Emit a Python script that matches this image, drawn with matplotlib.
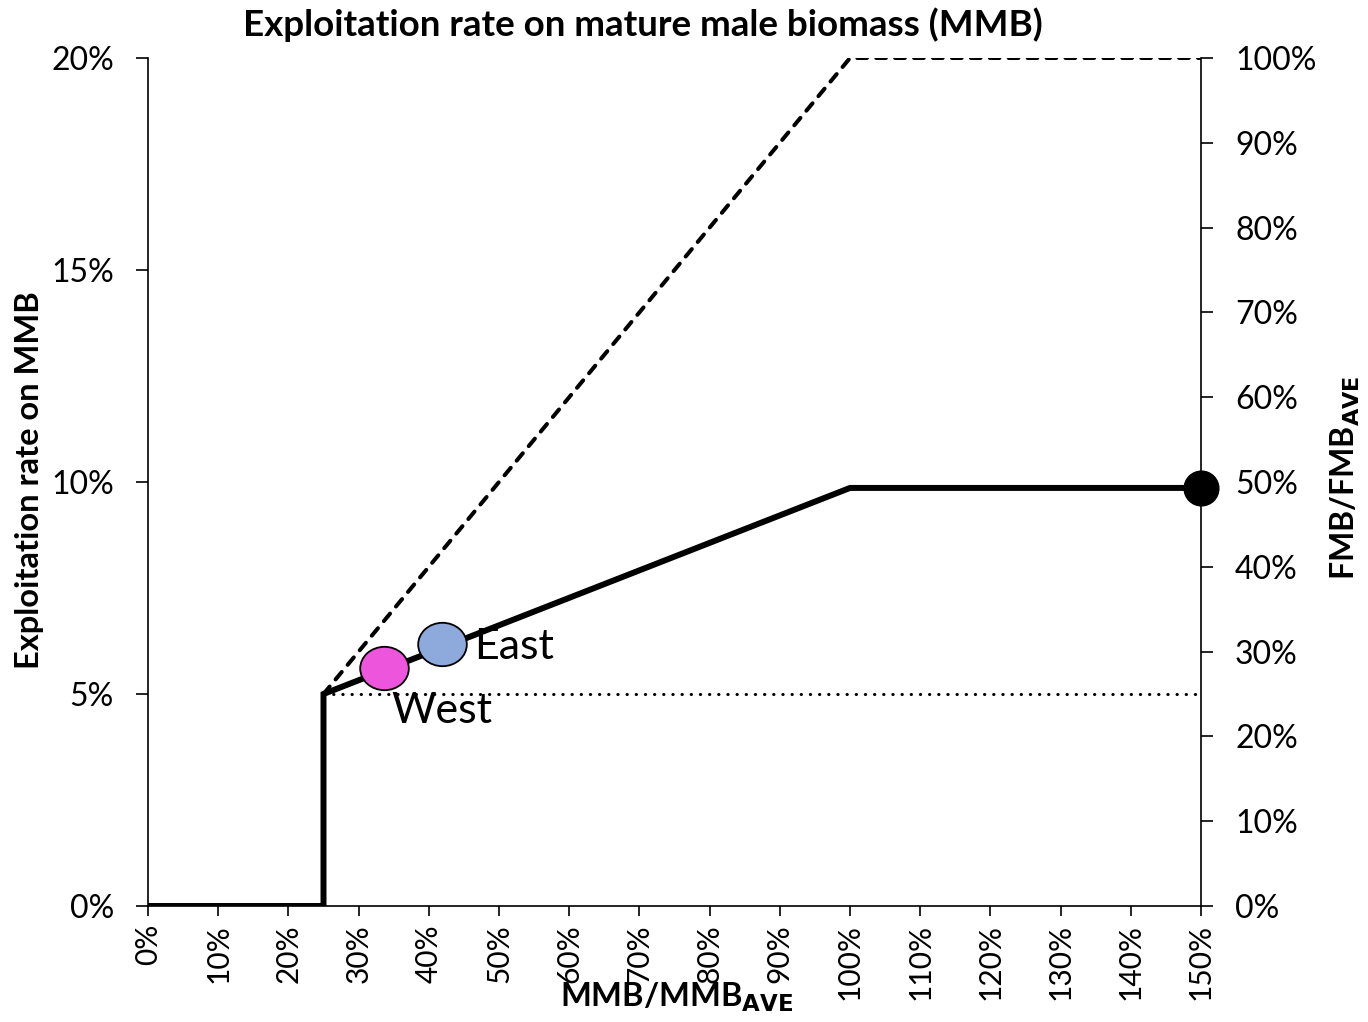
import matplotlib
matplotlib.use("Agg")
import matplotlib.pyplot as plt
from matplotlib.path import Path
from matplotlib.transforms import Affine2D
from matplotlib.ticker import FuncFormatter, MultipleLocator

plt.rcParams['font.family'] = ['Lato', 'DejaVu Sans']

# data
rule_x = [0.0, 0.25, 0.25, 1.0, 1.5]
rule_y = [0.0, 0.0, 0.05, 0.0986, 0.0986]
max_x = [0.25, 1.0, 1.5]
max_y = [0.05, 0.20, 0.20]
floor_x = [0.25, 1.5]
floor_y = [0.05, 0.05]
stocks = ["West", "East"]
stock_x = [0.336, 0.419]
stock_y = [0.0561, 0.0618]
stock_colors = ["#EE55DD", "#8EA9DB"]
end_x = [1.5]
end_y = [0.0986]

W, H = 1368, 1022
fig = plt.figure(figsize=(W/100, H/100), dpi=100)
ax = fig.add_axes([148/W, 1-906/H, (1201-148)/W, (906-58)/H])

ax.plot(rule_x, rule_y, color='black', lw=4.3, solid_joinstyle='miter', zorder=3)
ax.plot(max_x, max_y, color='black', lw=2.9, ls=(0, (2.4, 2.3)), dash_capstyle='round', zorder=2)
ax.plot(floor_x, floor_y, color='black', lw=2.2, ls=(0, (0.1, 2.9)), dash_capstyle='round', zorder=2)

ell = Path.unit_circle().transformed(Affine2D().scale(1.12, 1.0))
for x, y, c in zip(stock_x, stock_y, stock_colors):
    ax.plot([x], [y], marker=ell, ms=35, mfc=c, mec='black', mew=1.3, zorder=4, clip_on=False)
ax.plot(end_x, end_y, marker='o', ms=25, color='black', zorder=5, clip_on=False)

ax.text(stock_x[1] + 0.045, stock_y[1] - 0.0008, stocks[1], fontsize=31, va='center', ha='left')
ax.text(stock_x[0] + 0.010, 0.0460, stocks[0], fontsize=31, va='center', ha='left')

ax.set_xlim(0, 1.5)
ax.set_ylim(0, 0.2)
ax.xaxis.set_major_locator(MultipleLocator(0.1))
ax.yaxis.set_major_locator(MultipleLocator(0.05))
pct = FuncFormatter(lambda v, p: f"{v*100:.0f}%")
ax.xaxis.set_major_formatter(pct)
ax.yaxis.set_major_formatter(pct)
ax.spines['top'].set_visible(False)
ax.spines['right'].set_visible(False)
for s in ['left', 'bottom']:
    ax.spines[s].set_linewidth(1.2)
ax.tick_params(axis='x', labelsize=21.5, rotation=90, length=7, width=1.2, direction='out', pad=6)
ax.tick_params(axis='y', labelsize=23, length=8.5, width=1.2, direction='out', pad=16)

ax2 = ax.twinx()
ax2.set_ylim(0, 1.0)
ax2.yaxis.set_major_locator(MultipleLocator(0.1))
ax2.yaxis.set_major_formatter(pct)
ax2.spines['top'].set_visible(False)
ax2.spines['left'].set_visible(False)
ax2.spines['bottom'].set_visible(False)
ax2.spines['right'].set_linewidth(1.2)
ax2.tick_params(axis='y', labelsize=23, length=8.5, width=1.2, direction='out', pad=16)
ax.set_zorder(ax2.get_zorder() + 1)
ax.patch.set_visible(False)

fig.text(643/W, 1-25/H, "Exploitation rate on mature male biomass (MMB)", fontsize=26.5,
         fontweight='bold', ha='center', va='center')
fig.text(30/W, 1-480/H, "Exploitation rate on MMB", fontsize=23.5, fontweight='bold',
         rotation=90, ha='center', va='center')
fig.text(1345/W, 1-478/H, r"FMB/FMB$_{\mathbf{AVE}}$", fontsize=23, fontweight='bold',
         rotation=90, ha='center', va='center')
fig.text(677/W, 1-997/H, r"MMB/MMB$_{\mathbf{AVE}}$", fontsize=23.5, fontweight='bold',
         ha='center', va='center')

fig.savefig("out.png", dpi=100)
